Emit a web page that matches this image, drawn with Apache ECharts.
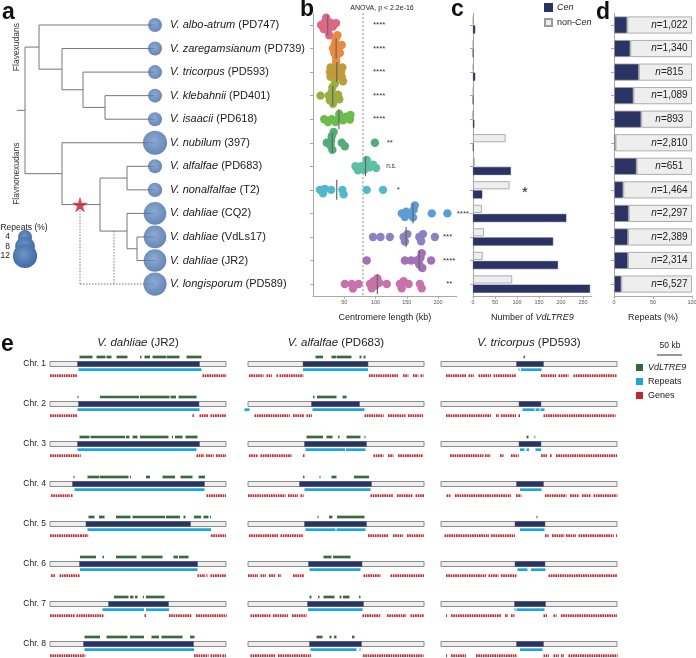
<!DOCTYPE html>
<html><head><meta charset="utf-8">
<script src="https://cdn.jsdelivr.net/npm/echarts@6/dist/echarts.min.js"></script>
<style>html,body{margin:0;padding:0;background:#fff}#c{width:696px;height:658px}</style>
</head><body><div id="c"></div>
<script>
// ================= DATA =================
const speciesName = ['V. albo-atrum','V. zaregamsianum','V. tricorpus','V. klebahnii','V. isaacii','V. nubilum','V. alfalfae','V. nonalfalfae','V. dahliae','V. dahliae','V. dahliae','V. longisporum'];
const strainName  = ['PD747','PD739','PD593','PD401','PD618','397','PD683','T2','CQ2','VdLs17','JR2','PD589'];
const genomeRepeatPct = [4,4,4,4,4,12,4,4.2,10.5,10.5,10.5,11];
const repeatLegendPct = [4,8,12];

// phylogeny (flat description)
const treeNodes  = ['root','Flavexudans','Z','T','K','Flavnonexudans','S','A','D','J'];
const treeParent = [null,'root','Flavexudans','Z','T','root','Flavnonexudans','S','S','D'];
const branchLen  = [8,14,23,21,22,37,38,27,27,10];
const leafParent = ['Flavexudans','Z','T','K','K','Flavnonexudans','A','A','D','J','J'];
const hybridLeaf = 11;
const hybridParents = ['S','D'];
const hybridOnBranchAt = [63,97];
const leafDepth = 138;
const cladeLabels = ['Flavexudans','Flavnonexudans'];

// b: centromere lengths (kb)
const cenKb = [
  [13,17,19,21,23,24,26,28,32,37],
  [32,34,35,36,37,37,39,41,43,46],
  [27,28,28,37,38,38,45,46,47,48],
  [12,25,27,30,31,32,33,35,40,42],
  [18,24,30,36,41,42,48,53,59,60],
  [22,28,29,30,31,33,46,51,99],
  [68,72,77,82,84,86,90,96,101],
  [11,16,19,29,47,49,86,112],
  [142,147,149,156,160,161,163,190,215],
  [96,108,123,145,147,151,170,173,176,195],
  [86,147,157,166,170,172,174,175,189],
  [51,62,64,73,91,94,97,100,103,106,118,139,142,145,153,171,174]
];
const sigText = ['****','****','****','****','****','**','n.s.','*','****','***','****','**'];
const sigAt   = [96,96,96,96,96,118,117,134,230,208,208,213];
const refLineKb = 80;
const dotColors = ['#dc6886','#e88b40','#bf9c3b','#9aae40','#6dba4d','#50ae78','#5dbfa4','#53b8c9','#5d9cd6','#8c81c1','#a470b6','#c971ad'];

// c: VdLTRE9 counts
const cenLTR    = [5,0,5,0,3,1,86,21,212,182,193,266];
const nonCenLTR = [1,1,1,1,0,74,4,83,20,25,22,89];
const cStarRow = 7, cStarAt = 118;

// d: repeats in centromeres (%)
const repeatCen = [17,21,32,25,35,2,29,12,19,18,18,9.5];
const nCount = [1022,1340,815,1089,893,2810,651,1464,2297,2389,2314,6527];
const nLabelAt = 71;

// e: chromosome windows (kb)
const chromLen = 352;
const chrNames = ['Chr. 1','Chr. 2','Chr. 3','Chr. 4','Chr. 5','Chr. 6','Chr. 7','Chr. 8'];
const eTitles = ['{i|V. dahliae} (JR2)','{i|V. alfalfae} (PD683)','{i|V. tricorpus} (PD593)'];
const scaleBarKb = 50;

const jr2Cen = [[55,299],[57,298],[55,299],[45,309],[72,281],[59,295],[117,237],[67,287]];
const jr2Ltr = [
  [[59,85],[93,111],[113,123],[133,155],[180,183],[189,200],[205,232],[233,259],[273,303]],
  [[55,57],[100,178],[180,239],[241,252],[257,293]],
  [[59,79],[81,150],[152,159],[165,175],[180,237],[244,246],[250,265],[271,295]],
  [[47,49],[75,99],[100,157],[160,162],[192,200],[225,250],[261,285],[297,310]],
  [[77,89],[98,109],[132,161],[165,230],[232,260],[267,271],[288,302],[307,317],[320,322]],
  [[60,92],[105,108],[132,173],[183,225],[247,256],[258,277]],
  [[128,157],[160,167],[170,175],[186,188],[192,229]],
  [[69,100],[113,155],[160,188],[203,218],[223,265],[280,289]]
];
const jr2Rep = [[[57,303]],[[55,299]],[[55,293]],[[49,309]],[[75,322]],[[60,295]],[[105,188],[192,238]],[[69,288]]];
const jr2Genes = [
  [[0,55],[305,352]],
  [[0,55],[285,288],[299,317],[321,352]],
  [[0,60],[293,307],[312,327],[332,352]],
  [[2,39],[42,45],[313,352]],
  [[0,60],[61,75],[322,352]],
  [[2,10],[19,59],[295,309],[313,315],[321,352]],
  [[0,50],[53,107],[189,192],[238,283],[292,352]],
  [[0,70],[288,317],[321,343],[345,352]]
];

const alfCen = [[110,240],[127,223],[113,237],[103,247],[113,237],[121,228],[119,231],[123,227]];
const alfLtr = [
  [[135,150],[167,177],[178,207],[223,227],[231,235]],
  [[130,133],[138,177],[189,197]],
  [[117,150],[157,169],[180,183],[197,225],[233,235]],
  [[110,113],[143,145],[167,177],[212,242]],
  [[139,141],[162,169],[178,233]],
  [[151,167],[170,205]],
  [[123,127],[140,143],[151,173],[183,187],[190,203],[222,225]],
  [[137,149],[163,167],[172,177],[208,213]]
];
const alfRep = [[[110,240]],[[-7,3],[129,233]],[[115,194],[196,235]],[[113,245]],[[115,175],[177,235]],[[123,225]],[[120,229]],[[125,217],[223,225]]];
const alfGenes = [
  [[2,30],[37,47],[57,60],[63,110],[242,300],[310,320],[330,340],[345,350]],
  [[13,83],[90,113],[117,127],[233,270],[280,315],[320,350]],
  [[2,20],[25,87],[110,113],[251,270],[280,290],[300,350]],
  [[0,75],[80,100],[105,110],[245,290],[298,330],[335,352]],
  [[2,60],[65,110],[240,280],[290,310],[318,352]],
  [[0,20],[25,35],[42,55],[60,65],[90,113],[231,265],[285,352]],
  [[5,45],[50,80],[88,117],[229,265],[278,315],[325,352]],
  [[5,55],[60,125],[230,350]]
];

const triCen = [[151,205],[156,200],[156,200],[151,205],[148,208],[148,208],[147,209],[151,205]];
const triLtr = [[[165,168]],[],[[171,175],[187,188]],[],[[191,193]],[],[],[]];
const triRep = [[[155,157],[160,201]],[[163,187],[189,197],[199,207]],[[158,167],[171,176],[189,200]],[[158,201]],[[158,207]],[[153,173],[180,209]],[[147,149],[151,207]],[[158,203]]];
const triGenes = [
  [[10,50],[55,65],[75,100],[105,150],[200,230],[235,255],[265,352]],
  [[10,100],[110,115],[120,150],[155,158],[205,348]],
  [[18,85],[88,98],[118,125],[140,155],[200,212],[218,222],[230,352]],
  [[11,20],[28,140],[150,160],[208,250],[258,275],[282,300],[305,352]],
  [[7,95],[100,148],[208,215],[222,245],[250,270],[275,345],[350,352]],
  [[10,90],[95,115],[120,151],[215,352]],
  [[10,12],[20,120],[128,133],[140,147],[205,212],[225,230],[240,352]],
  [[10,12],[20,50],[70,151],[205,215],[225,235],[240,245],[255,352]]
];

// ================= STYLE / LAYOUT =================
const FONT = '"Liberation Sans", Arial, Helvetica, sans-serif';
const NAVY = '#2b3264', LIGHT = '#eeeeee', EDGE = '#8c8c8c';
const GREEN = '#376a3a', BLUE = '#1ea4de', RED = '#c1272d', LINE = '#767676';
const ROW_TOP = 13.225, ROW_H = 282.6;
const B_LEFT = 313, B_MAX = 230, B_W = 143.75;
const DOT_D = 8.4, SWARM_GAP = 4.7;

// ================= DERIVED =================
const depth = {};
treeNodes.forEach((n,i)=>{ depth[n] = (treeParent[i] ? depth[treeParent[i]] : 0) + branchLen[i]; });
const kids = {}; treeNodes.forEach(n=>kids[n]=[]);
treeNodes.forEach((n,i)=>{ if (treeParent[i]) kids[treeParent[i]].push({node:n}); });
leafParent.forEach((p,i)=>kids[p].push({leaf:i}));
const yOf = {};
function calcY(n){ const ys = kids[n].map(c=> c.node!==undefined ? calcY(c.node) : c.leaf); yOf[n]=(Math.min(...ys)+Math.max(...ys))/2; return yOf[n]; }
calcY('root');
const treeEdges = [[0,yOf.root,depth.root,yOf.root,0]];
treeNodes.forEach(n=>{
  const ch = kids[n].map(c=> c.node!==undefined ? [depth[c.node], yOf[c.node]] : [leafDepth, c.leaf]);
  const ys = ch.map(c=>c[1]);
  treeEdges.push([depth[n], Math.min(...ys), depth[n], Math.max(...ys), 0]);
  ch.forEach(c=>treeEdges.push([depth[n], c[1], c[0], c[1], 0]));
});
hybridParents.forEach((p,j)=>treeEdges.push([hybridOnBranchAt[j], yOf[p], hybridOnBranchAt[j], hybridLeaf, 1]));
treeEdges.push([Math.min(...hybridOnBranchAt), hybridLeaf, leafDepth, hybridLeaf, 1]);

function swarm(vals, pxPerUnit, D){
  const pts = vals.map(v=>({v, x:v*pxPerUnit})).sort((a,b)=>a.x-b.x);
  const placed=[];
  pts.forEach(p=>{
    const cands=[0];
    placed.forEach(q=>{ const dx=Math.abs(p.x-q.x); if(dx<D){ const h=Math.sqrt(D*D-dx*dx); cands.push(q.y+h, q.y-h);} });
    cands.sort((a,b)=>Math.abs(a)-Math.abs(b) || b-a);
    for (const c of cands){ if (placed.every(q=>{const dx=p.x-q.x, dy=c-q.y; return dx*dx+dy*dy >= D*D-0.01;})){ p.y=c; break; } }
    placed.push(p);
  });
  return placed;
}
const beeItems = [];
cenKb.forEach((vals,r)=>swarm(vals, B_W/B_MAX, SWARM_GAP).forEach(p=>beeItems.push([p.v, r, p.y])));
function median(a){ const s=[...a].sort((x,y)=>x-y), m=s.length>>1; return s.length%2 ? s[m] : (s[m-1]+s[m])/2; }

function items(arr){ const out=[]; arr.forEach((segs,row)=>segs.forEach(s=>out.push([s[0],s[1],row]))); return out; }

// ================= RENDERERS =================
const rowCats = speciesName.map((s,i)=>String(i));
function renderChrom(p, api){
  const r = api.value(2);
  const a = api.coord([api.value(0), r]), b = api.coord([api.value(1), r]);
  const c1 = api.coord([api.value(3), r]), c2 = api.coord([api.value(4), r]);
  const h = 5;
  return {type:'group', children:[
    {type:'rect', shape:{x:a[0], y:a[1]-h/2, width:b[0]-a[0], height:h}, style:{fill:LIGHT, stroke:EDGE, lineWidth:1}},
    {type:'rect', shape:{x:c1[0], y:a[1]-h/2, width:c2[0]-c1[0], height:h}, style:{fill:NAVY, stroke:'#555a7a', lineWidth:0.5}}
  ]};
}
function track(dy, h, color, ticked){
  return function(p, api){
    const r = api.value(2);
    const s = api.coord([api.value(0), r]), e = api.coord([api.value(1), r]);
    const y = s[1] + dy - h/2;
    if (!ticked) return {type:'rect', shape:{x:s[0], y, width:Math.max(e[0]-s[0],0.8), height:h}, style:{fill:color}};
    const ch = [];
    for (let x = s[0]; x < e[0]; x += 2.3) ch.push({type:'rect', shape:{x, y, width:Math.min(1.6, Math.max(e[0]-x,0.8)), height:h}, style:{fill:color}});
    return {type:'group', children:ch};
  };
}

// ================= AXES =================
const axLine = {show:true, lineStyle:{color:'#a8a8a8', width:1}};
const axTick = {show:true, length:3, lineStyle:{color:'#a8a8a8'}};
const axLabel = {fontSize:5.5, color:'#555', margin:4, fontFamily:FONT};
const hidden = {show:false};
const nameStyle = {fontSize:9, color:'#222', fontFamily:FONT, rich:{i:{fontStyle:'italic', fontSize:9, fontFamily:FONT, color:'#222'}}};

const grids = [
  {left:17, top:ROW_TOP, width:leafDepth, height:ROW_H},
  {left:25, top:237, width:10, height:19},
  {left:B_LEFT, top:ROW_TOP, width:B_W, height:ROW_H},
  {left:473, top:ROW_TOP, width:118.8, height:ROW_H},
  {left:614, top:ROW_TOP, width:78, height:ROW_H},
  {left:50, top:344, width:176, height:320},
  {left:248, top:344, width:176, height:320},
  {left:441, top:344, width:176, height:320},
  {left:657, top:353, width:176, height:2}
].map(g=>Object.assign({outerBoundsMode:'none', containLabel:false}, g));

const catRows = (gi, show) => ({type:'category', gridIndex:gi, data:rowCats, inverse:true,
  axisLine: show ? axLine : hidden, axisTick: show ? Object.assign({alignWithLabel:true}, axTick) : hidden,
  axisLabel:{show:false}, splitLine:hidden});

const xAxes = [
  {type:'value', gridIndex:0, min:0, max:leafDepth, show:false},
  {type:'value', gridIndex:1, min:0, max:1, show:false},
  {type:'value', gridIndex:2, min:0, max:B_MAX, interval:50, axisLine:axLine, axisTick:axTick,
    axisLabel:Object.assign({showMinLabel:false, showMaxLabel:false}, axLabel), splitLine:hidden,
    name:'Centromere length (kb)', nameLocation:'middle', nameGap:17, nameTextStyle:nameStyle},
  {type:'value', gridIndex:3, min:0, max:270, interval:50, axisLine:axLine, axisTick:axTick,
    axisLabel:Object.assign({showMaxLabel:false}, axLabel), splitLine:hidden,
    name:'Number of {i|VdLTRE9}', nameLocation:'middle', nameGap:17, nameTextStyle:nameStyle},
  {type:'value', gridIndex:4, min:0, max:100, interval:50, axisLine:axLine, axisTick:axTick,
    axisLabel:axLabel, splitLine:hidden,
    name:'Repeats (%)', nameLocation:'middle', nameGap:17, nameTextStyle:nameStyle},
  {type:'value', gridIndex:5, min:0, max:chromLen, show:false},
  {type:'value', gridIndex:6, min:0, max:chromLen, show:false},
  {type:'value', gridIndex:7, min:0, max:chromLen, show:false},
  {type:'value', gridIndex:8, min:0, max:chromLen, show:false}
];
const yAxes = [
  {type:'value', gridIndex:0, min:-0.5, max:11.5, inverse:true, show:false},
  {type:'value', gridIndex:1, min:0, max:2, inverse:true, show:false},
  catRows(2, true), catRows(3, true), catRows(4, true),
  {type:'category', gridIndex:5, data:chrNames, inverse:true, axisLine:hidden, axisTick:hidden, splitLine:hidden,
    axisLabel:{fontSize:8.5, color:'#222', margin:4, fontFamily:FONT}},
  {type:'category', gridIndex:6, data:chrNames, inverse:true, show:false},
  {type:'category', gridIndex:7, data:chrNames, inverse:true, show:false},
  {type:'value', gridIndex:8, min:0, max:1, show:false}
];

// ================= SERIES =================
const bubbleFill = () => new echarts.graphic.RadialGradient(0.45,0.42,0.6,[{offset:0,color:'#6f95c8'},{offset:1,color:'#3f67a1'}]);
const series = [];

// a: tree
series.push({type:'custom', coordinateSystem:'cartesian2d', xAxisIndex:0, yAxisIndex:0, silent:true, z:2,
  encode:{x:[0,2], y:[1,3]}, data:treeEdges,
  renderItem:(p,api)=>{ const a=api.coord([api.value(0),api.value(1)]), b=api.coord([api.value(2),api.value(3)]);
    return {type:'line', shape:{x1:a[0],y1:a[1],x2:b[0],y2:b[1]}, style:{stroke:LINE, lineWidth:1, lineDash: api.value(4) ? [1.5,1.5] : null}}; }});
series.push({type:'scatter', xAxisIndex:0, yAxisIndex:0, silent:true, z:4,
  data: genomeRepeatPct.map((p,i)=>[leafDepth, i, p]), symbolSize: v => 7*Math.sqrt(v[2]),
  itemStyle:{color: bubbleFill()}});
series.push({type:'custom', coordinateSystem:'cartesian2d', xAxisIndex:0, yAxisIndex:0, silent:true, z:5,
  encode:{x:0, y:1}, data: speciesName.map((s,i)=>[leafDepth, i]),
  renderItem:(p,api)=>{ const c=api.coord([api.value(0),api.value(1)]); const i=p.dataIndex;
    return {type:'text', x:c[0]+15, y:c[1], style:{text:'{i|'+speciesName[i]+'} ('+strainName[i]+')', fill:'#1a1a1a', fontSize:11, fontFamily:FONT, align:'left', verticalAlign:'middle',
      rich:{i:{fontStyle:'italic', fontSize:11, fontFamily:FONT, fill:'#1a1a1a'}}}}; }});
series.push({type:'custom', coordinateSystem:'cartesian2d', xAxisIndex:0, yAxisIndex:0, silent:true, z:5,
  encode:{x:0, y:1}, data: cladeLabels.map(n=>[0, yOf[n]]),
  renderItem:(p,api)=>{ const c=api.coord([api.value(0),api.value(1)]);
    return {type:'text', x:c[0], y:c[1], rotation:Math.PI/2, style:{text:cladeLabels[p.dataIndex], fill:'#333', fontSize:8.5, fontFamily:FONT, align:'center', verticalAlign:'middle'}}; }});
series.push({type:'scatter', xAxisIndex:0, yAxisIndex:0, silent:true, z:6,
  data:[[hybridOnBranchAt[0], yOf[hybridParents[0]]]], symbol:'path://M50,0 L61,35 L98,35 L68,57 L79,91 L50,70 L21,91 L32,57 L2,35 L39,35 Z',
  symbolSize:16, itemStyle:{color:'#c1272d'}});
// bubble legend
series.push({type:'custom', coordinateSystem:'cartesian2d', xAxisIndex:1, yAxisIndex:1, silent:true, z:4,
  encode:{x:0, y:1}, data: repeatLegendPct.map((p,i)=>[0, i, p]),
  renderItem:(p,api)=>{ const c=api.coord([api.value(0),api.value(1)]); const r=3.5*Math.sqrt(api.value(2));
    return {type:'group', children:[
      {type:'circle', shape:{cx:c[0], cy:c[1], r}, style:{fill:bubbleFill()}},
      {type:'text', x:c[0]-15, y:c[1], style:{text:String(api.value(2)), fill:'#222', fontSize:8.5, fontFamily:FONT, align:'right', verticalAlign:'middle'}}
    ]}; }});

// b: reference line, beeswarm, medians, significance
series.push({type:'custom', coordinateSystem:'cartesian2d', xAxisIndex:2, yAxisIndex:2, silent:true, z:2,
  encode:{x:0}, data:[[refLineKb, 0]],
  renderItem:(p,api)=>{ const c=api.coord([api.value(0), 0]); const cs=p.coordSys;
    return {type:'line', shape:{x1:c[0], y1:cs.y, x2:c[0], y2:cs.y+cs.height}, style:{stroke:'#8a8a8a', lineWidth:1, lineDash:[2,2]}}; }});
series.push({type:'custom', coordinateSystem:'cartesian2d', xAxisIndex:2, yAxisIndex:2, silent:true, z:3,
  encode:{x:0, y:1}, data: beeItems,
  renderItem:(p,api)=>{ const c=api.coord([api.value(0),api.value(1)]);
    return {type:'circle', shape:{cx:c[0], cy:c[1]+api.value(2), r:DOT_D/2}, style:{fill:dotColors[api.value(1)]}}; }});
series.push({type:'custom', coordinateSystem:'cartesian2d', xAxisIndex:2, yAxisIndex:2, silent:true, z:4,
  encode:{x:0, y:1}, data: cenKb.map((a,r)=>[median(a), r]),
  renderItem:(p,api)=>{ const c=api.coord([api.value(0),api.value(1)]);
    return {type:'line', shape:{x1:c[0], y1:c[1]-10, x2:c[0], y2:c[1]+10}, style:{stroke:'#666', lineWidth:1.2}}; }});
series.push({type:'custom', coordinateSystem:'cartesian2d', xAxisIndex:2, yAxisIndex:2, silent:true, z:4,
  encode:{x:0, y:1}, data: sigAt.map((x,r)=>[x, r]),
  renderItem:(p,api)=>{ const c=api.coord([api.value(0),api.value(1)]);
    return {type:'text', x:c[0], y:c[1], style:{text:sigText[p.dataIndex], fill:'#333', fontSize:sigText[p.dataIndex]==='n.s.'?6.5:8, fontFamily:FONT, align:'left', verticalAlign:'middle'}}; }});

// c: bars
series.push({type:'bar', name:'non-Cen', xAxisIndex:3, yAxisIndex:3, data:nonCenLTR, barWidth:8, barGap:'15%', silent:true,
  itemStyle:{color:LIGHT, borderColor:'#9a9a9a', borderWidth:0.8}});
series.push({type:'bar', name:'Cen', xAxisIndex:3, yAxisIndex:3, data:cenLTR, barWidth:8, barGap:'15%', silent:true,
  itemStyle:{color:NAVY, borderColor:NAVY, borderWidth:0.5}});
series.push({type:'custom', coordinateSystem:'cartesian2d', xAxisIndex:3, yAxisIndex:3, silent:true, z:4,
  encode:{x:0, y:1}, data:[[cStarAt, cStarRow]],
  renderItem:(p,api)=>{ const c=api.coord([api.value(0),api.value(1)]);
    return {type:'text', x:c[0], y:c[1]+3, style:{text:'*', fill:'#222', fontSize:15, fontFamily:FONT, align:'center', verticalAlign:'middle'}}; }});

// d: stacked
series.push({type:'bar', name:'Cen', xAxisIndex:4, yAxisIndex:4, stack:'d', data:repeatCen, barWidth:17, silent:true,
  itemStyle:{color:NAVY, borderColor:'#9a9a9a', borderWidth:0.8}});
series.push({type:'bar', name:'non-Cen', xAxisIndex:4, yAxisIndex:4, stack:'d', data:repeatCen.map(v=>100-v), barWidth:17, silent:true,
  itemStyle:{color:LIGHT, borderColor:'#9a9a9a', borderWidth:0.8}});
series.push({type:'custom', coordinateSystem:'cartesian2d', xAxisIndex:4, yAxisIndex:4, silent:true, z:4,
  encode:{x:0, y:1}, data: nCount.map((n,r)=>[nLabelAt, r, n]),
  renderItem:(p,api)=>{ const c=api.coord([api.value(0),api.value(1)]);
    return {type:'text', x:c[0], y:c[1], style:{text:'{i|n}='+api.value(2).toLocaleString('en-US'), fill:'#222', fontSize:10, fontFamily:FONT, align:'center', verticalAlign:'middle',
      rich:{i:{fontStyle:'italic', fontSize:10, fontFamily:FONT, fill:'#222'}}}}; }});

// e: chromosomes
[[jr2Cen,jr2Ltr,jr2Rep,jr2Genes],[alfCen,alfLtr,alfRep,alfGenes],[triCen,triLtr,triRep,triGenes]].forEach((g,k)=>{
  const gi = 5+k;
  const base = {type:'custom', coordinateSystem:'cartesian2d', xAxisIndex:gi, yAxisIndex:gi, silent:true, clip:false};
  series.push(Object.assign({}, base, {z:2, encode:{x:[0,1], y:2}, data:g[0].map((c,row)=>[0, chromLen, row, c[0], c[1]]), renderItem:renderChrom}));
  series.push(Object.assign({}, base, {name:'VdLTRE9', z:3, encode:{x:[0,1], y:2}, data:items(g[1]), itemStyle:{color:GREEN}, renderItem:track(-7, 2.7, GREEN, false)}));
  series.push(Object.assign({}, base, {name:'Repeats', z:3, encode:{x:[0,1], y:2}, data:items(g[2]), itemStyle:{color:BLUE}, renderItem:track(5.7, 2.7, BLUE, false)}));
  series.push(Object.assign({}, base, {name:'Genes', z:3, encode:{x:[0,1], y:2}, data:items(g[3]), itemStyle:{color:RED}, renderItem:track(11.7, 2.7, RED, true)}));
});
// scale bar
series.push({type:'custom', coordinateSystem:'cartesian2d', xAxisIndex:8, yAxisIndex:8, silent:true, clip:false,
  encode:{x:[0,1], y:2}, data:[[0, scaleBarKb, 0]],
  renderItem:(p,api)=>{ const a=api.coord([api.value(0),api.value(2)]), b=api.coord([api.value(1),api.value(2)]);
    return {type:'line', shape:{x1:a[0],y1:a[1],x2:b[0],y2:b[1]}, style:{stroke:'#555', lineWidth:1.2}}; }});

// ================= TITLES / LEGENDS =================
const letter = (t, left, top) => ({text:t, left, top, padding:0, textStyle:{fontSize:23, fontWeight:'bold', color:'#111', fontFamily:FONT}});
const plain = (t, left, top, size, rich) => ({text:t, left, top, padding:0, textAlign:'center',
  textStyle:{fontSize:size, fontWeight:'normal', color:'#222', fontFamily:FONT, rich: rich ? {i:{fontStyle:'italic', fontSize:size, fontFamily:FONT, color:'#222'}} : undefined}});
const titles = [
  letter('a', 2, 1), letter('b', 300, -2), letter('c', 451, -2), letter('d', 596, 1), letter('e', 1, 333),
  plain('ANOVA, p < 2.2e-16', 382, 5, 7),
  plain('Repeats (%)', 24, 223, 8.5),
  plain(eTitles[0], 138, 337, 11.5, true),
  plain(eTitles[1], 336, 337, 11.5, true),
  plain(eTitles[2], 529, 337, 11.5, true),
  plain(scaleBarKb + ' kb', 670, 341, 8.5)
];
const legendFmt = n => n==='Cen' ? '{i|Cen}' : n==='non-Cen' ? 'non-{i|Cen}' : n==='VdLTRE9' ? '{i|VdLTRE9}' : n;
const legendText = {fontSize:9, color:'#222', fontFamily:FONT, rich:{i:{fontStyle:'italic', fontSize:9, fontFamily:FONT, color:'#222'}}};

const option = {
  animation:false,
  backgroundColor:'#ffffff',
  textStyle:{fontFamily:FONT},
  title: titles,
  legend:[
    {data:['Cen','non-Cen'], left:544, top:3, orient:'vertical', icon:'rect', itemWidth:7, itemHeight:7, itemGap:6, padding:0, selectedMode:false, formatter:legendFmt, textStyle:legendText},
    {data:['VdLTRE9','Repeats','Genes'], left:636, top:363, orient:'vertical', icon:'rect', itemWidth:7, itemHeight:7, itemGap:5, padding:0, selectedMode:false, formatter:legendFmt, textStyle:legendText}
  ],
  grid: grids,
  xAxis: xAxes,
  yAxis: yAxes,
  series
};
const chart = echarts.init(document.getElementById('c'), null, {renderer:'canvas'});
chart.setOption(option);
</script></body></html>
